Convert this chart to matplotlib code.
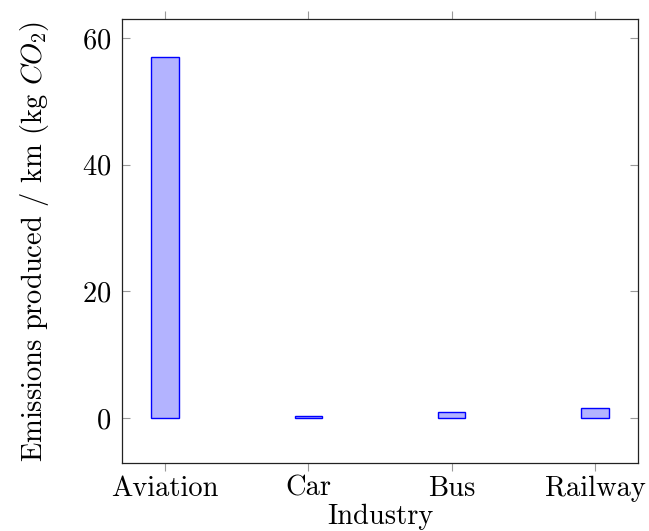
import matplotlib
matplotlib.use("Agg")
import matplotlib.pyplot as plt

industries = ["Aviation", "Car", "Bus", "Railway"]
emissions = [57.0, 0.4, 0.9, 1.6]
yticks = [0, 20, 40, 60]

plt.rcParams["font.family"] = "serif"
plt.rcParams["font.serif"] = ["cmr10", "DejaVu Serif"]
plt.rcParams["mathtext.fontset"] = "cm"
plt.rcParams["axes.formatter.use_mathtext"] = True

fig = plt.figure(figsize=(6.49, 5.31), dpi=100)
ax = fig.add_axes([0.188, 0.128, 0.795, 0.836])

x = list(range(len(industries)))
ax.bar(x, emissions, width=0.19, color=(0.7, 0.7, 1.0), edgecolor="blue", linewidth=1.0)

ax.set_xlim(-0.3, 3.3)
ax.set_ylim(-7.1, 63.0)
ax.set_xticks(x)
ax.set_xticklabels(industries)
ax.set_yticks(yticks)

ax.tick_params(axis="x", direction="out", top=True, bottom=True, length=6, width=0.8,
               color="#999999", labelsize=20.5, pad=3)
ax.tick_params(axis="y", direction="in", left=True, right=True, length=6, width=0.8,
               color="#999999", labelsize=20.5, pad=8)
for s in ax.spines.values():
    s.set_linewidth(0.9)
    s.set_color("#222222")

ax.set_xlabel("Industry", fontsize=20.5, labelpad=1)
ax.set_ylabel(r"Emissions produced / km (kg $CO_2$)", fontsize=20.5, labelpad=22)

fig.savefig("out.png", dpi=100)
